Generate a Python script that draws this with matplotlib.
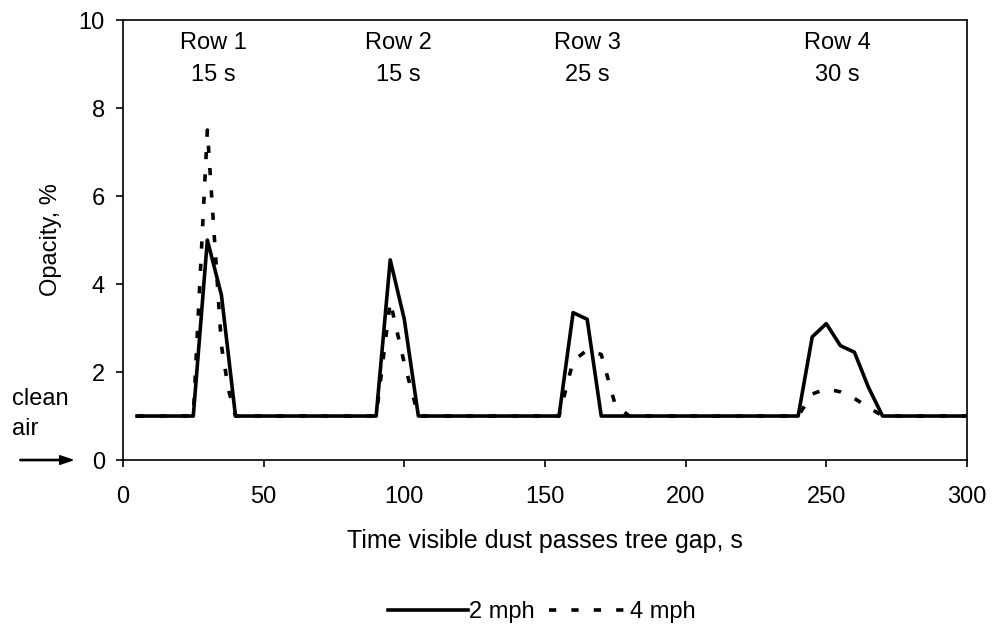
import matplotlib
matplotlib.use("Agg")
import matplotlib.pyplot as plt

plt.rcParams['font.family'] = ['Liberation Sans', 'DejaVu Sans']

# 2 mph series (solid)
t_2mph = [5, 25, 30, 35, 40, 90, 95, 100, 105, 155, 160, 165, 170,
          240, 245, 250, 255, 260, 265, 270, 300]
op_2mph = [1, 1, 5.0, 3.75, 1, 1, 4.55, 3.2, 1, 1, 3.35, 3.2, 1,
           1, 2.8, 3.1, 2.6, 2.45, 1.65, 1, 1]

# 4 mph series (dashed)
t_4mph = [5, 25, 30, 35, 37.5, 40, 90, 95, 100, 105, 155, 160, 165, 170, 175, 180,
          240, 245, 250, 255, 260, 265, 270, 300]
op_4mph = [1, 1, 7.5, 2.6, 1.6, 1, 1, 3.6, 2.2, 1, 1, 2.25, 2.5, 2.4, 1.25, 1,
           1, 1.5, 1.62, 1.55, 1.4, 1.2, 1, 1]

row_x = [32, 98, 165, 254]
row_labels = ["Row 1\n15 s", "Row 2\n15 s", "Row 3\n25 s", "Row 4\n30 s"]

fig = plt.figure(figsize=(9.94, 6.27), dpi=100)
ax = fig.add_axes([0.1237, 0.2663, 0.8491, 0.7017])

ax.plot(t_2mph, op_2mph, color='black', lw=2.6, label='2 mph', zorder=3)
ax.plot(t_4mph, op_4mph, color='black', lw=2.6, linestyle=(0, (2, 4.2)),
        label='4 mph', zorder=2)

ax.set_xlim(0, 300)
ax.set_ylim(0, 10)
ax.set_xticks(range(0, 301, 50))
ax.set_yticks(range(0, 11, 2))
ax.tick_params(direction='out', length=5, width=1.2, labelsize=17, colors='black')
ax.tick_params(axis='x', pad=14)
ax.tick_params(axis='y', pad=8)
for s in ax.spines.values():
    s.set_linewidth(1.2)

ax.set_xlabel("Time visible dust passes tree gap, s", fontsize=18, labelpad=15)
ax.set_ylabel("Opacity, %", fontsize=17, labelpad=12)

for x, lab in zip(row_x, row_labels):
    ax.text(x, 9.72, lab, ha='center', va='top', fontsize=17, linespacing=1.55)

fig.text(0.012, 0.34, "clean\nair", fontsize=17, ha='left', va='center', linespacing=1.45)
fig.patches.append(matplotlib.patches.FancyArrow(
    0.02, 0.2663, 0.053, 0, width=0.002, head_width=0.014, head_length=0.013,
    length_includes_head=True, color='black', transform=fig.transFigure))

fig.legend(loc='center', bbox_to_anchor=(0.545, 0.024), ncol=2, frameon=False,
           fontsize=17, handlelength=3.4, handletextpad=0.05, columnspacing=0.6)

fig.savefig("out.png", dpi=100)
